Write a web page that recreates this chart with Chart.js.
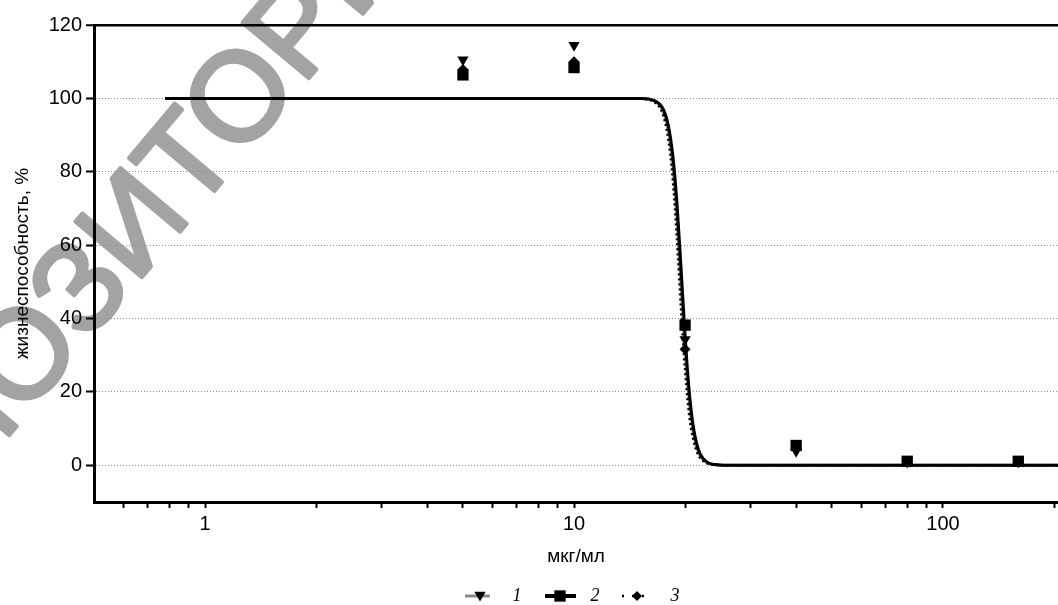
<!DOCTYPE html>
<html><head><meta charset="utf-8">
<script src="https://cdn.jsdelivr.net/npm/chart.js@4.4.1/dist/chart.umd.min.js"></script>
<style>html,body{margin:0;padding:0;background:#fff;}</style>
</head><body>
<canvas id="c" width="1058" height="605"></canvas>
<script>
// ---- data ----
const concentrations = [5, 10, 20, 40, 80, 160];          // мкг/мл
const series1 = [110.5, 114.5, 34.3, 3.8, 1.0, 1.0];     // ▼ 1
const series2 = [106.4, 108.4, 38.2, 5.4, 1.1, 1.1];     // ■ 2
const series3 = [107.9, 110.0, 31.6, 4.5, 0.8, 0.8];     // ◆ 3
const curveX = [0.78, 10, 14, 15, 16, 16.5, 17, 17.5, 18, 18.5, 19, 19.5, 20, 20.5, 21, 21.5, 22, 23, 24, 26, 30, 205];
const fit1 = [100, 100, 100, 99.96, 99.75, 99.3, 98.3, 96, 91.5, 82.5, 68, 49, 31.5, 18, 9.5, 5, 2.5, 0.7, 0.2, 0, 0, 0];
const fit2 = [100, 100, 100, 99.97, 99.8, 99.4, 98.6, 96.8, 92.8, 85, 71.8, 53.8, 35.3, 20.6, 11.2, 5.9, 3, 0.8, 0.2, 0, 0, 0];
const fit3 = [100, 100, 100, 99.95, 99.6, 99, 97.8, 95, 89, 78.5, 62, 42.5, 26, 14, 7.5, 3.8, 1.9, 0.5, 0.15, 0, 0, 0];
const yTickValues = [0, 20, 40, 60, 80, 100, 120];
const xTickValues = [0.6, 0.7, 0.8, 0.9, 1, 2, 3, 4, 5, 6, 7, 8, 9, 10, 20, 30, 40, 50, 60, 70, 80, 90, 100, 200];
const xLabelValues = [1, 10, 100];
const seriesLabels = ['1', '2', '3'];
const xTitle = 'мкг/мл';
const yTitle = 'жизнеспособность, %';
const watermarkText = 'РЕПОЗИТОРИЙ';

const pts = (xs, ys) => xs.map((x, i) => ({x: x, y: ys[i]}));
const SANS = '"Liberation Sans", Arial, Helvetica, sans-serif';
Chart.defaults.font.family = SANS;
Chart.defaults.color = '#000';

const watermark = {
  id: 'watermark',
  beforeDraw(chart) {
    const c = chart.ctx;
    const size = 126;
    c.save();
    c.font = size + 'px ' + SANS;
    c.fillStyle = 'rgb(163,163,163)';
    c.strokeStyle = 'rgb(163,163,163)';
    c.lineWidth = 4;
    c.lineJoin = 'round';
    const w1 = c.measureText(watermarkText.slice(0, 3)).width;
    const w2 = c.measureText(watermarkText.slice(3, 4)).width;
    c.translate(20, 352);
    c.rotate(-50 * Math.PI / 180);
    c.textBaseline = 'alphabetic';
    c.fillText(watermarkText, -(w1 + w2 / 2), size * 0.36);
    c.strokeText(watermarkText, -(w1 + w2 / 2), size * 0.36);
    c.restore();
  }
};

function drawMarker(c, shape, x, y, r) {
  c.beginPath();
  if (shape === 'tri') {
    c.moveTo(x - r * 0.866, y - r * 0.5);
    c.lineTo(x + r * 0.866, y - r * 0.5);
    c.lineTo(x, y + r);
  } else if (shape === 'sq') {
    const s = r * Math.SQRT1_2;
    c.rect(x - s, y - s, 2 * s, 2 * s);
  } else {
    c.moveTo(x, y - r); c.lineTo(x + r, y); c.lineTo(x, y + r); c.lineTo(x - r, y);
  }
  c.closePath();
  c.fill();
}

const customLegend = {
  id: 'customLegend',
  afterDraw(chart) {
    const c = chart.ctx;
    const y = 596;
    c.save();
    c.strokeStyle = '#8a8a8a'; c.lineWidth = 3; c.setLineDash([]);
    c.beginPath(); c.moveTo(465, y); c.lineTo(490, y); c.stroke();
    c.fillStyle = '#000'; drawMarker(c, 'tri', 480, y - 1, 6.5);
    c.strokeStyle = '#000'; c.lineWidth = 4;
    c.beginPath(); c.moveTo(545, y); c.lineTo(576, y); c.stroke();
    drawMarker(c, 'sq', 560, y, 8);
    c.lineWidth = 2.5; c.setLineDash([2, 8]);
    c.beginPath(); c.moveTo(622, y); c.lineTo(652, y); c.stroke();
    c.setLineDash([]);
    drawMarker(c, 'dia', 637, y, 5);
    c.font = 'italic 18px "Liberation Serif", "Times New Roman", serif';
    c.textAlign = 'center'; c.textBaseline = 'middle';
    c.fillText(seriesLabels[0], 517, y);
    c.fillText(seriesLabels[1], 595, y);
    c.fillText(seriesLabels[2], 675, y);
    c.restore();
  }
};

new Chart(document.getElementById('c'), {
  type: 'scatter',
  data: {
    datasets: [
      {label: 'fit1', data: pts(curveX, fit1), showLine: true, pointRadius: 0, borderColor: '#8a8a8a', borderWidth: 3, cubicInterpolationMode: 'monotone', order: 12},
      {label: 'fit2', data: pts(curveX, fit2), showLine: true, pointRadius: 0, borderColor: '#000', borderWidth: 3, cubicInterpolationMode: 'monotone', order: 11},
      {label: 'fit3', data: pts(curveX, fit3), showLine: true, pointRadius: 0, borderColor: '#000', borderWidth: 2.5, borderDash: [2, 3], cubicInterpolationMode: 'monotone', order: 10},
      {label: seriesLabels[2], data: pts(concentrations, series3), pointStyle: 'rectRot', pointRadius: 5.5, backgroundColor: '#000', borderColor: '#000', borderWidth: 0, order: 3},
      {label: seriesLabels[0], data: pts(concentrations, series1), pointStyle: 'triangle', rotation: 180, pointRadius: 6.5, backgroundColor: '#000', borderColor: '#000', borderWidth: 0, order: 2},
      {label: seriesLabels[1], data: pts(concentrations, series2), pointStyle: 'rect', pointRadius: 8, backgroundColor: '#000', borderColor: '#000', borderWidth: 0, order: 1}
    ]
  },
  options: {
    responsive: false,
    animation: false,
    layout: {autoPadding: false, padding: {left: 0, right: 0, top: 25, bottom: 35}},
    plugins: {legend: {display: false}, tooltip: {enabled: false}},
    scales: {
      x: {
        type: 'logarithmic',
        position: 'bottom',
        min: 0.5,
        max: 205,
        afterBuildTicks: (s) => { s.ticks = xTickValues.map(v => ({value: v})); },
        afterFit: (s) => { s.height = 68; s.paddingRight = 0; s.paddingLeft = 0; },
        ticks: {
          autoSkip: false, maxRotation: 0, minRotation: 0, padding: 4,
          font: {size: 20}, color: '#000',
          callback: (v) => { const m = xLabelValues.find(t => Math.abs(t - v) < 1e-9); return m !== undefined ? String(m) : ''; }
        },
        grid: {display: true, drawOnChartArea: false, drawTicks: true, tickLength: 6, tickColor: '#000', tickWidth: 2},
        border: {display: true, color: '#000', width: 3},
        title: {display: true, text: xTitle, font: {size: 19}, color: '#000', padding: {top: 0, bottom: 2}}
      },
      y: {
        type: 'linear',
        min: -10,
        max: 120,
        afterBuildTicks: (s) => { s.ticks = yTickValues.map(v => ({value: v})); },
        afterFit: (s) => { s.width = 94; },
        ticks: {padding: 4, font: {size: 20}, color: '#000'},
        grid: {
          display: true, drawOnChartArea: true, drawTicks: true, tickLength: 8, tickColor: '#000', tickWidth: 2,
          color: (ctx) => (ctx.tick && ctx.tick.value === 120) ? '#000' : '#8c8c8c',
          lineWidth: (ctx) => (ctx.tick && ctx.tick.value === 120) ? 2.5 : 1
        },
        border: {display: true, color: '#000', width: 3, dash: (ctx) => (ctx.tick && ctx.tick.value === 120) ? [] : [1, 2]},
        title: {display: true, text: yTitle, font: {size: 19}, color: '#000', padding: {top: 11, bottom: 0}}
      }
    }
  },
  plugins: [watermark, customLegend]
});
</script>
</body></html>
